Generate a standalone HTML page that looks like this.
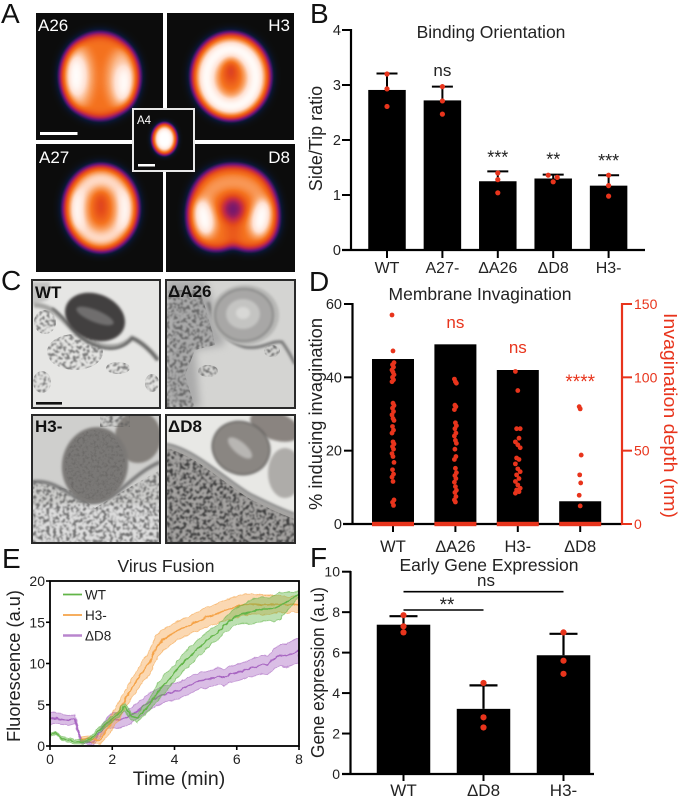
<!DOCTYPE html>
<html lang="en">
<head>
<meta charset="utf-8">
<title>Multi-panel figure</title>
<style>
html,body{margin:0;padding:0;background:#fff;}
svg{display:block;filter:blur(0.3px);}
text{font-family:"Liberation Sans",sans-serif;fill:#222;}
.letter{font-size:28px;fill:#111;}
.title{font-size:17.5px;text-anchor:middle;}
.tick{font-size:14.5px;text-anchor:end;}
.xl{font-size:16px;text-anchor:middle;}
.axl{font-size:18px;text-anchor:middle;}
.hm{font-size:17px;fill:#fff;}
.em{font-size:17px;font-weight:bold;fill:#111;}
.red{fill:#e8341c;}
</style>
</head>
<body>
<svg id="fig" xmlns="http://www.w3.org/2000/svg" width="680" height="799" viewBox="0 0 680 799">
<defs>
  <filter id="cmap" filterUnits="userSpaceOnUse" x="0" y="0" width="340" height="300" color-interpolation-filters="sRGB">
    <feGaussianBlur stdDeviation="5"/>
    <feComponentTransfer>
      <feFuncR type="table" tableValues=".05 .04 .38 .74 .9 .96 .98 1 1"/>
      <feFuncG type="table" tableValues=".05 .09 .08 .15 .3 .45 .65 .88 1"/>
      <feFuncB type="table" tableValues=".05 .2 .47 .3 .1 .12 .42 .82 1"/>
    </feComponentTransfer>
  </filter>
  <filter id="cmapSmall" filterUnits="userSpaceOnUse" x="100" y="90" width="120" height="100" color-interpolation-filters="sRGB">
    <feGaussianBlur stdDeviation="3"/>
    <feComponentTransfer>
      <feFuncR type="table" tableValues=".05 .04 .38 .74 .9 .96 .98 1 1"/>
      <feFuncG type="table" tableValues=".05 .09 .08 .15 .3 .45 .65 .88 1"/>
      <feFuncB type="table" tableValues=".05 .2 .47 .3 .1 .12 .42 .82 1"/>
    </feComponentTransfer>
  </filter>
  <filter id="speck" filterUnits="userSpaceOnUse" x="30" y="278" width="270" height="268" color-interpolation-filters="sRGB">
    <feTurbulence type="fractalNoise" baseFrequency=".3" numOctaves="2" seed="4" result="n"/>
    <feColorMatrix in="n" type="matrix" values="0 0 0 0 0 0 0 0 0 0 0 0 0 0 0 5 0 0 0 -2.3" result="a"/>
    <feGaussianBlur in="a" stdDeviation=".7" result="b"/>
    <feComposite in="SourceGraphic" in2="b" operator="in"/>
  </filter>
  <filter id="grain" filterUnits="userSpaceOnUse" x="30" y="278" width="270" height="268" color-interpolation-filters="sRGB">
    <feTurbulence type="fractalNoise" baseFrequency=".35" numOctaves="2" seed="9" result="n"/>
    <feColorMatrix in="n" type="matrix" values="0 0 0 0 0 0 0 0 0 0 0 0 0 0 0 2.2 0 0 0 -1" result="a"/>
    <feComposite in="SourceGraphic" in2="a" operator="in"/>
  </filter>
  <filter id="jag" filterUnits="userSpaceOnUse" x="45" y="575" width="260" height="175">
    <feTurbulence type="fractalNoise" baseFrequency=".22" numOctaves="1" seed="5" result="n"/>
    <feDisplacementMap in="SourceGraphic" in2="n" scale="3.5" xChannelSelector="G" yChannelSelector="R"/>
  </filter>
  <filter id="soft" x="-20%" y="-20%" width="140%" height="140%"><feGaussianBlur stdDeviation="1.2"/></filter>
  <filter id="softer" x="-30%" y="-30%" width="160%" height="160%"><feGaussianBlur stdDeviation="4"/></filter>
  <clipPath id="cA26"><rect x="36" y="13" width="127" height="127"/></clipPath>
  <clipPath id="cH3"><rect x="167" y="13" width="127" height="127"/></clipPath>
  <clipPath id="cA27"><rect x="36" y="144" width="127" height="128"/></clipPath>
  <clipPath id="cD8"><rect x="166" y="144" width="129" height="128"/></clipPath>
  <clipPath id="cA4"><rect x="134" y="110" width="59" height="60"/></clipPath>
  <clipPath id="cWT"><rect x="32" y="280" width="128" height="128"/></clipPath>
  <clipPath id="cdA"><rect x="166" y="280" width="129" height="128"/></clipPath>
  <clipPath id="cH3m"><rect x="32" y="415" width="128" height="128"/></clipPath>
  <clipPath id="cdD"><rect x="166" y="415" width="129" height="128"/></clipPath>
  <clipPath id="cPlotE"><rect x="50" y="581" width="249" height="165"/></clipPath>
</defs>

<!-- Panel letters -->
<text class="letter" x="1" y="23">A</text>
<text class="letter" x="310" y="23">B</text>
<text class="letter" x="1" y="290">C</text>
<text class="letter" x="309" y="291">D</text>
<text class="letter" x="2" y="568">E</text>
<text class="letter" x="310" y="567">F</text>

<!-- Panel A heatmaps -->
<g clip-path="url(#cA26)">
  <g filter="url(#cmap)">
    <rect x="0" y="0" width="340" height="300" fill="#000"/>
    <ellipse cx="100" cy="76" rx="39" ry="43" fill="rgb(158,158,158)"/>
    <ellipse cx="78" cy="77" rx="15" ry="32" fill="rgb(205,205,205)"/>
    <ellipse cx="122" cy="79" rx="15" ry="30" fill="rgb(205,205,205)"/>
    <ellipse cx="76" cy="76" rx="9" ry="20" fill="#fff"/>
    <ellipse cx="124" cy="83" rx="8" ry="18" fill="#fff"/>
  </g>
</g>
<g clip-path="url(#cH3)">
  <g filter="url(#cmap)">
    <rect x="0" y="0" width="340" height="300" fill="#000"/>
    <ellipse cx="231" cy="76" rx="39" ry="43" fill="rgb(158,158,158)"/>
    <ellipse cx="231" cy="78" rx="25" ry="29" fill="none" stroke="#fff" stroke-width="18"/>
    <ellipse cx="231" cy="71" rx="5" ry="13" fill="rgb(100,100,100)"/>
  </g>
</g>
<g clip-path="url(#cA27)">
  <g filter="url(#cmap)">
    <rect x="0" y="0" width="340" height="300" fill="#000"/>
    <ellipse cx="101" cy="208" rx="37" ry="43" fill="rgb(158,158,158)"/>
    <ellipse cx="101" cy="209" rx="24" ry="30" fill="none" stroke="rgb(225,225,225)" stroke-width="16"/>
    <ellipse cx="77" cy="210" rx="7" ry="20" fill="#fff"/>
    <ellipse cx="125" cy="210" rx="7" ry="20" fill="#fff"/>
    <ellipse cx="101" cy="206" rx="4" ry="14" fill="rgb(95,95,95)"/>
  </g>
</g>
<g clip-path="url(#cD8)">
  <g filter="url(#cmap)">
    <rect x="0" y="0" width="340" height="300" fill="#000"/>
    <path d="M233,165 C268,165 280,195 278,222 C276,251 248,255 233,245 C218,255 190,251 188,222 C186,195 198,165 233,165Z" fill="rgb(158,158,158)"/>
    <path d="M204,222 C200,192 216,182 233,182 C250,182 266,192 262,222" fill="none" stroke="rgb(190,190,190)" stroke-width="11"/>
    <ellipse cx="204" cy="218" rx="10" ry="19" fill="#fff" transform="rotate(-12 204 218)"/>
    <ellipse cx="261" cy="218" rx="10" ry="19" fill="#fff" transform="rotate(12 261 218)"/>
    <ellipse cx="233" cy="209" rx="12" ry="13" fill="rgb(70,70,70)"/>
    <rect x="228" y="222" width="10" height="20" fill="rgb(130,130,130)"/>
  </g>
</g>
<rect x="133" y="109" width="61" height="62" fill="#0c0c0a" stroke="#e8e8e8" stroke-width="2"/>
<g clip-path="url(#cA4)">
  <g filter="url(#cmapSmall)">
    <rect x="100" y="90" width="120" height="100" fill="#000"/>
    <ellipse cx="164.5" cy="139" rx="12" ry="16" fill="rgb(170,170,170)"/>
    <ellipse cx="164.5" cy="139" rx="10" ry="12" fill="#fff"/>
  </g>
</g>
<text class="hm" x="38" y="31">A26</text>
<text class="hm" x="290" y="31" text-anchor="end">H3</text>
<text class="hm" x="39" y="163">A27</text>
<text class="hm" x="290" y="163" text-anchor="end">D8</text>
<text class="hm" style="font-size:11.5px" x="137" y="124">A4</text>
<rect x="40" y="132" width="37.5" height="3" fill="#fff"/>
<rect x="138" y="164" width="17" height="2.5" fill="#fff"/>

<!-- Panel C EM images -->
<g clip-path="url(#cWT)">
  <rect x="32" y="280" width="128" height="128" fill="#e6e6e4"/>
  <path d="M32,282 L50,282 L48,300 L32,305Z" fill="#c4c4c2" filter="url(#soft)"/>
  <g filter="url(#speck)" fill="#666" fill-opacity=".85">
    <ellipse cx="75" cy="352" rx="28" ry="18"/>
    <ellipse cx="45" cy="322" rx="11" ry="12"/>
    <ellipse cx="118" cy="368" rx="12" ry="6"/>
    <ellipse cx="152" cy="383" rx="7" ry="9"/>
    <ellipse cx="42" cy="382" rx="9" ry="11"/>
  </g>
  <path d="M34,305 C60,305 68,332 88,341 C108,350 122,348 132,338 C142,342 152,352 158,360" fill="none" stroke="#a4a4a2" stroke-width="5" filter="url(#soft)"/>
  <path d="M52,308 C66,318 72,334 90,343 C108,352 122,350 132,338 C142,342 152,352 158,360" fill="none" stroke="#444" stroke-width="1.6" filter="url(#soft)"/>
  <ellipse cx="95" cy="317" rx="31" ry="23" transform="rotate(22 95 317)" fill="#423f3f" filter="url(#soft)"/>
  <ellipse cx="95" cy="316" rx="20" ry="6" transform="rotate(22 95 316)" fill="#706e6e" filter="url(#soft)"/>
  <rect x="36" y="402" width="26" height="2.6" fill="#111"/>
</g>
<rect x="32" y="280" width="128" height="128" fill="none" stroke="#2a2a2a" stroke-width="2"/>

<g clip-path="url(#cdA)">
  <rect x="166" y="280" width="129" height="128" fill="#d4d4d2"/>
  <path d="M166,280 L205,280 L220,320 L225,345 L195,350 L200,408 L166,408Z" fill="#aaa" filter="url(#softer)"/>
  <g filter="url(#speck)" fill="#555" fill-opacity=".8">
    <path d="M166,290 L200,290 L212,330 L215,345 L195,350 L185,375 L195,408 L166,408Z"/>
    <ellipse cx="208" cy="371" rx="10" ry="6"/>
    <ellipse cx="272" cy="351" rx="8" ry="6"/>
  </g>
  <path d="M208,302 C215,325 225,342 245,347 C262,350 272,340 282,342 C288,350 292,358 295,364" fill="none" stroke="#777" stroke-width="3" filter="url(#soft)"/>
  <ellipse cx="245" cy="315" rx="34" ry="30" fill="#b7b7b5" filter="url(#soft)"/>
  <ellipse cx="244" cy="315" rx="29" ry="26" fill="#a8a7a6" stroke="#7c7c7c" stroke-width="1.5" filter="url(#soft)"/>
  <ellipse cx="243" cy="314" rx="17" ry="15" fill="#c4c4c2" filter="url(#soft)"/>
  <ellipse cx="243" cy="313" rx="7" ry="6" fill="#d8d8d6" filter="url(#soft)"/>
</g>
<rect x="166" y="280" width="129" height="128" fill="none" stroke="#2a2a2a" stroke-width="2"/>

<g clip-path="url(#cH3m)">
  <rect x="32" y="415" width="128" height="128" fill="#cfcfcd"/>
  <rect x="32" y="505" width="128" height="40" fill="#dedede" filter="url(#soft)"/>
  <ellipse cx="138" cy="437" rx="23" ry="26" fill="#84807c" filter="url(#soft)"/>
  <g filter="url(#speck)" fill="#555" fill-opacity=".8">
    <path d="M32,480 L70,490 L95,508 L125,490 L160,470 L160,544 L32,544Z"/>
    <rect x="100" y="415" width="30" height="12"/>
  </g>
  <path d="M32,482 C60,478 75,505 95,502 C118,500 130,475 160,462" fill="none" stroke="#777" stroke-width="3.5" filter="url(#soft)"/>
  <ellipse cx="95" cy="465" rx="33" ry="38" transform="rotate(10 95 465)" fill="#7a7876" filter="url(#soft)"/>
  <g filter="url(#grain)" fill="#666462"><ellipse cx="95" cy="465" rx="30" ry="35"/></g>
</g>
<rect x="32" y="415" width="128" height="128" fill="none" stroke="#2a2a2a" stroke-width="2"/>

<g clip-path="url(#cdD)">
  <rect x="166" y="415" width="129" height="128" fill="#e8e8e5"/>
  <path d="M166,445 C195,450 225,480 250,495 C270,505 285,512 295,515 L295,545 L166,545Z" fill="#a6a4a2" filter="url(#soft)"/>
  <g filter="url(#speck)" fill="#3c3c3c">
    <path d="M166,448 C195,455 225,484 250,499 C270,509 285,516 295,519 L295,545 L166,545Z"/>
  </g>
  <path d="M166,444 C195,449 225,479 250,494 C270,504 285,511 295,514" fill="none" stroke="#777" stroke-width="2.2" filter="url(#soft)"/>
  <ellipse cx="275" cy="426" rx="26" ry="14" transform="rotate(20 275 426)" fill="#8a8480" filter="url(#soft)"/>
  <ellipse cx="285" cy="473" rx="17" ry="25" fill="#aeaca9" filter="url(#soft)"/>
  <ellipse cx="241" cy="448" rx="29" ry="26" transform="rotate(22 241 448)" fill="#8a8682" stroke="#5c5a58" stroke-width="1.5" filter="url(#soft)"/>
  <ellipse cx="240" cy="448" rx="15" ry="6" transform="rotate(40 240 448)" fill="#b8b6b3" filter="url(#soft)"/>
</g>
<rect x="166" y="415" width="129" height="128" fill="none" stroke="#2a2a2a" stroke-width="2"/>

<text class="em" x="35" y="298">WT</text>
<text class="em" x="168" y="297">ΔA26</text>
<text class="em" x="35" y="432">H3-</text>
<text class="em" x="168" y="432">ΔD8</text>

<!-- Titles and axis titles -->
<text class="title" x="491" y="38">Binding Orientation</text>
<text class="axl" transform="translate(322,138.5) rotate(-90)">Side/Tip ratio</text>
<text class="title" x="480" y="300">Membrane Invagination</text>
<text class="axl" transform="translate(322,414) rotate(-90)" textLength="192" lengthAdjust="spacingAndGlyphs">% inducing invagination</text>
<text class="axl red" transform="translate(664,415.5) rotate(90)" textLength="205" lengthAdjust="spacingAndGlyphs">Invagination depth (nm)</text>
<text class="title" x="166" y="572">Virus Fusion</text>
<text class="axl" style="font-size:19.5px" x="179" y="785">Time (min)</text>
<text class="axl" transform="translate(20,666) rotate(-90)" textLength="152" lengthAdjust="spacingAndGlyphs">Fluorescence (a.u)</text>
<text class="title" x="489" y="571">Early Gene Expression</text>
<text class="axl" transform="translate(324,672.5) rotate(-90)" textLength="171" lengthAdjust="spacingAndGlyphs">Gene expression (a.u)</text>

<g id="chartB"></g>
<g id="chartD"></g>
<g id="chartE"></g>
<g id="chartF"></g>
</svg>

<script>
// ---------- Chart B data ----------
const bCategories = ['WT', 'A27-', 'ΔA26', 'ΔD8', 'H3-'];
const bMeans = [2.91, 2.72, 1.25, 1.30, 1.17];
const bErrorTops = [3.21, 2.97, 1.43, 1.37, 1.36];
const bPoints = [[3.2, 2.93, 2.61], [2.97, 2.71, 2.47], [1.40, 1.28, 1.04], [1.36, 1.32, 1.24], [1.36, 1.17, 0.98]];
const bSignificance = ['', 'ns', '***', '**', '***'];
const bTicks = [0, 1, 2, 3, 4];

// ---------- Chart D data ----------
const dCategories = ['WT', 'ΔA26', 'H3-', 'ΔD8'];
const dPercent = [45, 49, 42, 6.2];
const dTicksLeft = [0, 20, 40, 60];
const dTicksRight = [0, 50, 100, 150];
const dSignificance = ['', 'ns', 'ns', '****'];
const dDepthWT = [142.5, 118, 110, 108.6, 107, 105, 103.6, 101.8, 100, 98.3, 97, 82.4, 80.8, 79, 76.7, 74.4, 72, 70.6, 66.5, 64, 62, 56, 54.6, 52.8, 51, 48, 46, 42, 37, 34, 32, 29, 16.4, 14.8, 12.7];
const dDepthA26 = [98.8, 97, 96, 81, 80, 78, 69, 67, 65, 62, 60, 57, 55, 51, 46, 44, 38, 35, 33, 31, 28.5, 25.5, 23, 21.5, 18.7, 16.4, 15];
const dDepthH3 = [104, 91, 65, 65, 58.5, 56, 54, 52, 45, 44, 41, 37.6, 35.7, 33.5, 31, 29, 26.6, 24.4, 23.2, 22, 21];
const dDepthD8 = [80, 78.5, 47, 33.5, 28, 19.6, 12.3];

// ---------- Chart E data ----------
const eTimes = [0, .2, .4, .6, .8, 1, 1.2, 1.4, 1.6, 1.8, 2, 2.2, 2.4, 2.6, 2.8, 3, 3.2, 3.4, 3.6, 3.8, 4, 4.2, 4.4, 4.6, 4.8, 5, 5.2, 5.4, 5.6, 5.8, 6, 6.2, 6.4, 6.6, 6.8, 7, 7.2, 7.4, 7.6, 7.8, 8];
const eWT = [1.3, 1.6, .9, .7, .5, .5, .6, 1.2, 2.0, 2.7, 3.3, 3.9, 4.8, 3.6, 3.4, 4.2, 5.0, 6.2, 7.2, 8.0, 8.9, 9.8, 10.6, 11.2, 12.0, 12.7, 13.3, 13.8, 14.6, 15.2, 15.8, 16.0, 16.2, 16.4, 16.6, 16.6, 16.7, 17.0, 17.5, 17.9, 18.5];
const eWTSpread = [.2, .2, .25, .25, .25, .25, .25, .3, .35, .4, .4, .4, .45, .4, .5, .6, .7, 1.0, 1.1, 1.1, 1.0, 1.0, 1.1, 1.1, 1.0, 1.0, .9, .9, .9, 1.0, 1.0, 1.1, 1.4, 1.5, 1.5, 1.4, 1.6, 1.6, 1.2, .7, .4];
const eH3 = [null, null, null, null, null, .8, .9, .8, .7, 1.8, 3.0, 4.2, 5.6, 6.8, 8.0, 9.2, 10.1, 11.8, 12.8, 13.3, 13.8, 14.2, 14.5, 14.9, 15.2, 15.6, 15.8, 16.1, 16.4, 16.6, 16.9, 17.1, 17.2, 17.2, 17.1, 17.1, 17.2, 17.2, 17.1, 17.2, 17.1];
const eH3Spread = [null, null, null, null, null, .3, .3, .4, .5, .8, 1, 1.1, 1.1, 1.1, 1.2, 1.3, 1.5, 1.5, 1.3, 1.2, 1.1, 1.1, 1.1, 1.1, 1.2, 1.2, 1.2, 1.2, 1.2, 1.3, 1.3, 1.3, 1.2, 1.2, 1.2, 1.2, 1.1, 1.0, 1.0, .95, .9];
const eD8 = [3.3, 3.4, 3.2, 3.1, 3.3, .6, .4, .5, 1.6, 2.6, 3.1, 3.2, 3.3, 3.7, 4.2, 4.8, 5.4, 5.8, 6.2, 6.4, 6.6, 6.8, 7.2, 7.6, 7.9, 8.0, 8.2, 8.5, 8.3, 8.7, 8.9, 9.1, 9.4, 9.6, 9.9, 9.8, 10.6, 11.0, 10.9, 11.3, 11.6];
const eD8Spread = [.7, .7, .6, .6, .6, .2, .2, .4, .5, .7, .9, 1.0, .9, .9, 1.0, 1.0, 1.0, 1.0, 1.0, 1.0, 1.0, 1.0, 1.0, 1.0, 1.0, 1.0, 1.0, 1.0, 1.0, 1.0, 1.0, 1.0, 1.0, 1.1, 1.1, 1.1, 1.2, 1.3, 1.4, 1.5, 1.5];
const eXTicks = [0, 2, 4, 6, 8];
const eYTicks = [0, 5, 10, 15, 20];
const eLegend = ['WT', 'H3-', 'ΔD8'];

// ---------- Chart F data ----------
const fCategories = ['WT', 'ΔD8', 'H3-'];
const fMeans = [7.38, 3.22, 5.87];
const fErrorTops = [7.8, 4.38, 6.93];
const fPoints = [[7.85, 7.3, 7.0], [4.5, 2.8, 2.3], [7.0, 5.6, 4.95]];
const fTicks = [0, 2, 4, 6, 8, 10];

// ---------- helpers ----------
const SVGNS = 'http://www.w3.org/2000/svg';
const RED = '#e8341c';
function mk(parent, tag, attrs, txt) {
  const el = document.createElementNS(SVGNS, tag);
  for (const k in attrs) el.setAttribute(k, attrs[k]);
  if (txt !== undefined) el.textContent = txt;
  parent.appendChild(el);
  return el;
}
function slug(s) { return String(s).replace(/Δ/g, 'delta-').replace(/[^a-zA-Z0-9]+/g, '-').replace(/-+$/, '').toLowerCase(); }

// ---------- Chart B ----------
(function () {
  const g = document.getElementById('chartB');
  const y = v => 250 - v * 55;
  const x = i => 387 + i * 55.4;
  const bw = 37.5;
  bCategories.forEach((c, i) => {
    const bar = mk(g, 'rect', { x: x(i) - bw / 2, y: y(bMeans[i]), width: bw, height: 250 - y(bMeans[i]), fill: '#000' });
    
    
    const stem = mk(g, 'line', { x1: x(i), x2: x(i), y1: y(bMeans[i]), y2: y(bErrorTops[i]), stroke: '#000', 'stroke-width': 2 });
    
    
    const cap = mk(g, 'line', { x1: x(i) - 10.5, x2: x(i) + 10.5, y1: y(bErrorTops[i]), y2: y(bErrorTops[i]), stroke: '#000', 'stroke-width': 2 });
    
    
    bPoints[i].forEach((p, j) => {
      const off = (c === 'ΔD8' && j < 2) ? (j === 0 ? -5 : 4) : 0;
      const dot = mk(g, 'circle', { cx: x(i) + off, cy: y(p), r: 2.6, fill: RED });
      
      
    });
    const t = mk(g, 'text', { class: 'xl', x: x(i), y: 273 }, c);
    
    
    const tk = mk(g, 'line', { x1: x(i), x2: x(i), y1: 250, y2: 258, stroke: '#000', 'stroke-width': 2 });
    
    
    if (bSignificance[i]) {
      const isNs = bSignificance[i] === 'ns';
      const sig = mk(g, 'text', { class: 'xl', x: x(i), y: isNs ? 76 : y(bErrorTops[i]) - 8 + (c === 'ΔD8' ? -1 : 0), style: 'font-size:' + (isNs ? 17 : 18) + 'px' }, bSignificance[i]);
      
      
    }
  });
  const ya = mk(g, 'line', { x1: 351, x2: 351, y1: 29, y2: 251, stroke: '#000', 'stroke-width': 2.2 });
  
  
  const xa = mk(g, 'line', { x1: 342, x2: 645, y1: 250, y2: 250, stroke: '#000', 'stroke-width': 2.2 });
  
  
  bTicks.forEach(v => {
    const tk = mk(g, 'line', { x1: 342, x2: 351, y1: y(v), y2: y(v), stroke: '#000', 'stroke-width': 2 });
    
    
    const lb = mk(g, 'text', { class: 'tick', x: 341, y: y(v) + 5 }, v);
    
    
  });
})();

// ---------- Chart D ----------
(function () {
  const g = document.getElementById('chartD');
  const yL = v => 524 - v * 220 / 60;
  const yR = v => 524 - v * 220 / 150;
  const x = i => 393 + i * 62.4;
  const bw = 42;
  const depths = [dDepthWT, dDepthA26, dDepthH3, dDepthD8];
  dCategories.forEach((c, i) => {
    const bar = mk(g, 'rect', { x: x(i) - bw / 2, y: yL(dPercent[i]), width: bw, height: 524 - yL(dPercent[i]), fill: '#000' });
    
    
    const tk = mk(g, 'line', { x1: x(i), x2: x(i), y1: 524, y2: 532, stroke: '#000', 'stroke-width': 2 });
    
    
    const lb = mk(g, 'text', { class: 'xl', x: x(i), y: 552, style: 'font-size:16.5px' }, c);
    
    
    depths[i].forEach((d, j) => {
      const dot = mk(g, 'circle', { cx: x(i) + ((j * 7) % 5 - 2) * (i === 2 ? 1.2 : 0.5), cy: yR(d), r: 2.4, fill: RED });
      
      
    });
  });
  const xa = mk(g, 'line', { x1: 343, x2: 622, y1: 524, y2: 524, stroke: '#000', 'stroke-width': 2.2 });
  
  
  dCategories.forEach((c, i) => {
    const z = mk(g, 'rect', { x: x(i) - bw / 2, y: yR(0) - 2.2, width: bw, height: 4.4, fill: RED });
    
    
    if (dSignificance[i]) {
      const isNs = dSignificance[i] === 'ns';
      const sig = mk(g, 'text', { class: 'xl red', x: x(i), y: i === 1 ? 328 : (i === 2 ? 353 : 388), style: 'font-size:' + (isNs ? 17 : 19) + 'px' }, dSignificance[i]);
      
      
    }
  });
  const ya = mk(g, 'line', { x1: 352.5, x2: 352.5, y1: 303, y2: 525, stroke: '#000', 'stroke-width': 2.2 });
  
  
  dTicksLeft.forEach(v => {
    const tk = mk(g, 'line', { x1: 344, x2: 352, y1: yL(v), y2: yL(v), stroke: '#000', 'stroke-width': 2 });
    
    
    const lb = mk(g, 'text', { class: 'tick', x: 342, y: yL(v) + 5 }, v);
    
    
  });
  const yb = mk(g, 'line', { x1: 622, x2: 622, y1: 303, y2: 525, stroke: RED, 'stroke-width': 2.2 });
  
  
  dTicksRight.forEach(v => {
    const tk = mk(g, 'line', { x1: 622, x2: 632, y1: yR(v), y2: yR(v), stroke: RED, 'stroke-width': 2 });
    
    
    const lb = mk(g, 'text', { class: 'tick red', style: 'text-anchor:start;font-size:14px', x: 634, y: yR(v) + 5 }, v);
    
    
  });
})();

// ---------- Chart E ----------
(function () {
  const g = document.getElementById('chartE');
  const x = t => 50 + t * 249 / 8;
  const y = v => 746 - v * 165 / 20;
  const series = [
    { name: 'dD8', mean: eD8, spread: eD8Spread, color: '#a866c2' },
    { name: 'H3', mean: eH3, spread: eH3Spread, color: '#f5a348' },
    { name: 'WT', mean: eWT, spread: eWTSpread, color: '#62b548' }
  ];
  const clip = mk(g, 'g', { 'clip-path': 'url(#cPlotE)' });
  
  
  const plot = mk(clip, 'g', { filter: 'url(#jag)' });
  
  
  series.forEach(s => {
    const idx = eTimes.map((t, i) => i).filter(i => s.mean[i] !== null);
    const up = idx.map(i => x(eTimes[i]).toFixed(1) + ',' + y(s.mean[i] + s.spread[i]).toFixed(1));
    const lo = idx.map(i => x(eTimes[i]).toFixed(1) + ',' + y(s.mean[i] - s.spread[i]).toFixed(1));
    const band = mk(plot, 'polygon', { points: up.concat(lo.slice().reverse()).join(' '), fill: s.color, 'fill-opacity': .42, stroke: s.color, 'stroke-opacity': .6, 'stroke-width': .9 });
    
    
    const line = mk(plot, 'polyline', { points: idx.map(i => x(eTimes[i]).toFixed(1) + ',' + y(s.mean[i]).toFixed(1)).join(' '), fill: 'none', stroke: s.color, 'stroke-width': 1.5 });
    
    
  });
  const frame = mk(g, 'rect', { x: 50, y: 581, width: 249, height: 165, fill: 'none', stroke: '#000', 'stroke-width': 1.8 });
  
  
  eXTicks.forEach(v => {
    const tk = mk(g, 'line', { x1: x(v), x2: x(v), y1: 746, y2: 750, stroke: '#000', 'stroke-width': 1.6 });
    
    
    const lb = mk(g, 'text', { class: 'xl', style: 'font-size:14px', x: x(v), y: 764 }, v);
    
    
  });
  eYTicks.forEach(v => {
    const tk = mk(g, 'line', { x1: 46, x2: 50, y1: y(v), y2: y(v), stroke: '#000', 'stroke-width': 1.6 });
    
    
    const lb = mk(g, 'text', { class: 'tick', style: 'font-size:14px', x: 45, y: y(v) + 5 }, v);
    
    
  });
  const legendColors = ['#62b548', '#f5a348', '#a866c2'];
  eLegend.forEach((name, i) => {
    const ly = 594.5 + i * 20.5;
    const k = mk(g, 'line', { x1: 63, x2: 82, y1: ly, y2: ly, stroke: legendColors[i], 'stroke-width': i === 2 ? 2.4 : 1.8, 'stroke-opacity': i === 2 ? .8 : 1 });
    
    
    const t = mk(g, 'text', { x: 85, y: ly + 5, style: 'font-size:13.5px' }, name);
    
    
  });
})();

// ---------- Chart F ----------
(function () {
  const g = document.getElementById('chartF');
  const y = v => 774 - v * 20.23;
  const x = i => 403.5 + i * 80;
  const bw = 53.5;
  fCategories.forEach((c, i) => {
    const bar = mk(g, 'rect', { x: x(i) - bw / 2, y: y(fMeans[i]), width: bw, height: 774 - y(fMeans[i]), fill: '#000' });
    
    
    const stem = mk(g, 'line', { x1: x(i), x2: x(i), y1: y(fMeans[i]), y2: y(fErrorTops[i]), stroke: '#000', 'stroke-width': 2.2 });
    
    
    const cap = mk(g, 'line', { x1: x(i) - 14, x2: x(i) + 14, y1: y(fErrorTops[i]), y2: y(fErrorTops[i]), stroke: '#000', 'stroke-width': 2.2 });
    
    
    fPoints[i].forEach(p => {
      const dot = mk(g, 'circle', { cx: x(i), cy: y(p), r: 3.1, fill: RED });
      
      
    });
    const tk = mk(g, 'line', { x1: x(i), x2: x(i), y1: 774, y2: 781, stroke: '#000', 'stroke-width': 2 });
    
    
    const lb = mk(g, 'text', { class: 'xl', style: 'font-size:17px', x: x(i), y: 796 }, c);
    
    
  });
  const ya = mk(g, 'line', { x1: 350.5, x2: 350.5, y1: 571, y2: 775, stroke: '#000', 'stroke-width': 2.2 });
  
  
  const xa = mk(g, 'line', { x1: 342, x2: 594, y1: 774, y2: 774, stroke: '#000', 'stroke-width': 2.2 });
  
  
  fTicks.forEach(v => {
    const tk = mk(g, 'line', { x1: 342, x2: 351, y1: y(v), y2: y(v), stroke: '#000', 'stroke-width': 2 });
    
    
    const lb = mk(g, 'text', { class: 'tick', style: 'font-size:14px', x: 340, y: y(v) + 5 }, v);
    
    
  });
  const sigA = mk(g, 'line', { x1: x(0), x2: x(1), y1: 610, y2: 610, stroke: '#000', 'stroke-width': 1.6 });
  
  
  const sigB = mk(g, 'line', { x1: x(0), x2: x(2), y1: 591.7, y2: 591.7, stroke: '#000', 'stroke-width': 1.6 });
  
  
  const s1 = mk(g, 'text', { class: 'xl', style: 'font-size:19px', x: 447, y: 611 }, '**');
  
  
  const s2 = mk(g, 'text', { class: 'xl', style: 'font-size:17px', x: 486, y: 586 }, 'ns');
  
  
})();
</script>
</body>
</html>
